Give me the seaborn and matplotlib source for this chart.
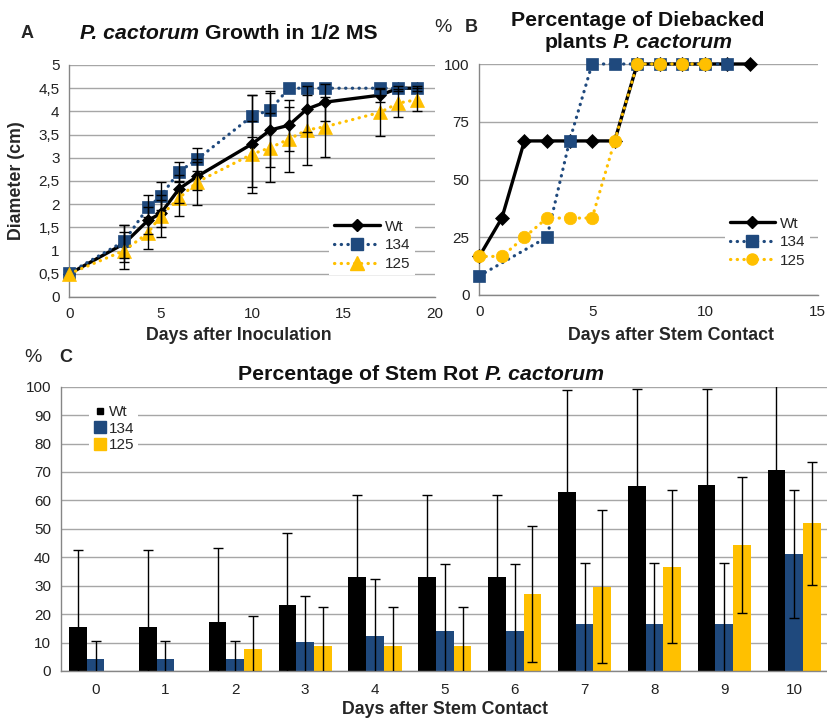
import numpy as np
import pandas as pd
import matplotlib
matplotlib.use("Agg")
import matplotlib.pyplot as plt
from matplotlib.lines import Line2D
import seaborn as sns

# ----------------------------------------------------------
# DATA
# ----------------------------------------------------------

# A - growth in 1/2 MS (diameter, cm)
growth_days = [0, 3, 4.3, 5, 6, 7, 10, 11, 12, 13, 14, 17, 18, 19]
growth_wt = [0.5, 1.15, 1.65, 1.8, 2.33, 2.6, 3.3, 3.6, 3.7, 4.05, 4.2, 4.35, 4.5, 4.5]
growth_134 = [0.52, 1.2, 1.93, 2.17, 2.7, 2.97, 3.9, 4.03, 4.5, 4.5, 4.5, 4.5, 4.5, 4.5]
growth_125 = [0.5, 1.0, 1.38, 1.75, 2.13, 2.48, 3.08, 3.22, 3.4, 3.6, 3.67, 3.98, 4.18, 4.25]
growth_err_wt = [0, 0.4, 0.3, 0.3, 0.3, 0.3, 1.05, 0.8, 0.55, 0.5, 0.4, 0.15, 0.05, 0.05]
growth_err_134 = [0, 0.35, 0.27, 0.3, 0.22, 0.25, 0.45, 0.4, 0, 0, 0, 0, 0, 0]
growth_err_125 = [0, 0.4, 0.35, 0.45, 0.38, 0.5, 0.72, 0.75, 0.7, 0.75, 0.65, 0.5, 0.3, 0.25]
growth_yticks = [0, 0.5, 1, 1.5, 2, 2.5, 3, 3.5, 4, 4.5, 5]
growth_ytick_labels = ["0", "0,5", "1", "1,5", "2", "2,5", "3", "3,5", "4", "4,5", "5"]

# B - diebacked plants (%)
dieback_days_wt = [0, 1, 2, 3, 4, 5, 6, 7, 8, 9, 10, 11, 12]
dieback_wt = [16.7, 33.3, 66.7, 66.7, 66.7, 66.7, 66.7, 100, 100, 100, 100, 100, 100]
dieback_days_134 = [0, 3, 4, 5, 6, 7, 8, 9, 10, 11]
dieback_134 = [8.3, 25, 66.7, 100, 100, 100, 100, 100, 100, 100]
dieback_days_125 = [0, 1, 2, 3, 4, 5, 6, 7, 8, 9, 10]
dieback_125 = [16.7, 16.7, 25, 33.3, 33.3, 33.3, 66.7, 100, 100, 100, 100]

# C - stem rot (%)
rot_days = [0, 1, 2, 3, 4, 5, 6, 7, 8, 9, 10]
rot_wt = [15.4, 15.4, 17.4, 23.2, 32.9, 32.9, 32.9, 63.1, 65.2, 65.5, 70.6]
rot_134 = [4.2, 4.2, 4.2, 10.1, 12.3, 14.0, 14.0, 16.5, 16.5, 16.5, 41.0]
rot_125 = [0, 0, 7.7, 8.9, 8.9, 8.9, 27.1, 29.7, 36.7, 44.3, 51.9]
rot_err_wt = [27.2, 27.2, 25.7, 25.5, 29.1, 29.1, 29.1, 35.7, 34.1, 33.8, 35.0]
rot_err_134 = [6.3, 6.3, 6.3, 16.4, 19.9, 23.5, 23.5, 21.6, 21.6, 21.6, 22.5]
rot_err_125 = [0, 0, 11.6, 13.7, 13.7, 13.7, 24.0, 27.0, 27.0, 24.0, 21.5]

groups = ["Wt", "134", "125"]
colors = {"Wt": "#000000", "134": "#1F497D", "125": "#FFC000"}

# ----------------------------------------------------------
# STYLE
# ----------------------------------------------------------

W, H, DPI = 827, 718, 100
sns.set_theme(style="white")
plt.rcParams["font.family"] = ["Liberation Sans", "DejaVu Sans"]

GRID = "#a6a6a6"
SPINE = "#868686"
TICK_FS = 11
LABEL_FS = 12.8
TITLE_FS = 15.3
DOT = (0, (0.1, 2.0))

fig = plt.figure(figsize=(W / DPI, H / DPI), dpi=DPI)
fig.patch.set_facecolor("white")


def px_axes(left, top, right, bottom):
    return fig.add_axes([left / W, 1 - bottom / H, (right - left) / W, (bottom - top) / H])


def style_axes(ax):
    ax.set_facecolor("white")
    for side in ["top", "right"]:
        ax.spines[side].set_visible(False)
    for side in ["left", "bottom"]:
        ax.spines[side].set_color(SPINE)
        ax.spines[side].set_linewidth(1)
    ax.yaxis.grid(True, color=GRID, linewidth=1)
    ax.xaxis.grid(False)
    ax.set_axisbelow(True)
    ax.tick_params(axis="both", which="both", direction="out", length=4, width=1,
                   color=SPINE, labelsize=TICK_FS, labelcolor="#222222", pad=3)
    ax.set_xlabel("")
    ax.set_ylabel("")


def rich_text(x_px, y_px, parts, size):
    renderer = fig.canvas.get_renderer()
    items = []
    for s, style in parts:
        t = fig.text(0, 1 - y_px / H, s, fontsize=size, fontweight="bold",
                     fontstyle=style, ha="left", va="baseline", color="#111111")
        items.append(t)
    widths = [t.get_window_extent(renderer).width for t in items]
    gap = size * 0.28 * DPI / 72
    cur = x_px - (sum(widths) + gap * (len(items) - 1)) / 2
    for t, w in zip(items, widths):
        t.set_x(cur / W)
        cur += w + gap


def draw_line(ax, x, y, name, marker, ms):
    ls = "-" if name == "Wt" else DOT
    lw = 2.4 if name == "Wt" else 2.3
    sns.lineplot(x=x, y=y, ax=ax, color=colors[name], linestyle=ls, linewidth=lw,
                 dash_capstyle="round", marker=marker, markersize=ms,
                 markeredgecolor=colors[name], markeredgewidth=0.5,
                 label=name, clip_on=False, zorder=3, legend=False)


def line_legend(ax, anchor, markers, sizes):
    handles = [Line2D([], [], color=colors["Wt"], lw=2.4, marker=markers[0], ms=sizes[0]),
               Line2D([], [], color=colors["134"], lw=2.3, linestyle=DOT, dash_capstyle="round",
                      marker=markers[1], ms=sizes[1]),
               Line2D([], [], color=colors["125"], lw=2.3, linestyle=DOT, dash_capstyle="round",
                      marker=markers[2], ms=sizes[2])]
    leg = ax.legend(handles, groups, loc="lower right", bbox_to_anchor=anchor,
                    frameon=True, facecolor="white", edgecolor="white", framealpha=1,
                    fontsize=TICK_FS, handlelength=3.0, handletextpad=0.3,
                    labelspacing=0.3, borderpad=0.3, numpoints=1, fancybox=False)
    leg.get_frame().set_linewidth(0)
    leg.set_zorder(5)


# ----------------------------------------------------------
# PANEL A
# ----------------------------------------------------------

ax_a = px_axes(69.3, 65, 435, 297)
style_axes(ax_a)
draw_line(ax_a, growth_days, growth_wt, "Wt", "D", 6)
draw_line(ax_a, growth_days, growth_134, "134", "s", 9)
draw_line(ax_a, growth_days, growth_125, "125", "^", 10)
for vals, errs in [(growth_wt, growth_err_wt), (growth_134, growth_err_134), (growth_125, growth_err_125)]:
    x = np.array(growth_days)
    v = np.array(vals)
    e = np.array(errs)
    m = e > 0
    ax_a.errorbar(x[m], v[m], yerr=e[m], fmt="none", ecolor="black", elinewidth=1,
                  capsize=3.5, capthick=1, zorder=4, clip_on=False)
ax_a.set_xlim(0, 20)
ax_a.set_ylim(0, 5)
ax_a.set_xticks([0, 5, 10, 15, 20])
ax_a.set_yticks(growth_yticks)
ax_a.set_yticklabels(growth_ytick_labels)
line_legend(ax_a, (0.965, 0.06), ["D", "s", "^"], [6, 9, 10])

# ----------------------------------------------------------
# PANEL B
# ----------------------------------------------------------

ax_b = px_axes(479.3, 64, 817.7, 295)
style_axes(ax_b)
draw_line(ax_b, dieback_days_wt, dieback_wt, "Wt", "D", 7)
draw_line(ax_b, dieback_days_134, dieback_134, "134", "s", 9)
draw_line(ax_b, dieback_days_125, dieback_125, "125", "o", 9)
ax_b.set_xlim(0, 15)
ax_b.set_ylim(0, 100)
ax_b.set_xticks([0, 5, 10, 15])
ax_b.set_yticks([0, 25, 50, 75, 100])
line_legend(ax_b, (1.0, 0.065), ["D", "s", "o"], [6, 8, 8])

# ----------------------------------------------------------
# PANEL C
# ----------------------------------------------------------

rot_df = pd.DataFrame({
    "day": rot_days * 3,
    "value": rot_wt + rot_134 + rot_125,
    "group": ["Wt"] * len(rot_days) + ["134"] * len(rot_days) + ["125"] * len(rot_days),
})

ax_c = px_axes(60.7, 386.7, 829, 671)
sns.barplot(data=rot_df, x="day", y="value", hue="group", hue_order=groups,
            palette=colors, width=0.76, saturation=1, errorbar=None, ax=ax_c,
            legend=False, linewidth=0)
style_axes(ax_c)
for cont, errs in zip(ax_c.containers, [rot_err_wt, rot_err_134, rot_err_125]):
    xs = np.array([p.get_x() + p.get_width() / 2 for p in cont.patches])
    hs = np.array([p.get_height() for p in cont.patches])
    e = np.array(errs)
    m = e > 0
    ax_c.errorbar(xs[m], hs[m], yerr=e[m], fmt="none", ecolor="black", elinewidth=1,
                  capsize=3.5, capthick=1, zorder=4)
ax_c.set_xlim(-0.5, len(rot_days) - 0.5)
ax_c.set_ylim(0, 100)
ax_c.set_yticks(range(0, 101, 10))
ax_c.set_xticks(range(len(rot_days)))
ax_c.set_xticklabels([str(d) for d in rot_days])
ax_c.set_xticks(np.arange(-0.5, len(rot_days), 1), minor=True)
ax_c.tick_params(axis="x", which="major", length=0, pad=9)
ax_c.tick_params(axis="x", which="minor", length=4, color=SPINE)

bar_handles = [Line2D([], [], linestyle="none", marker="s", ms=ms, color=colors[g])
               for g, ms in zip(groups, [5, 9, 9])]
leg_c = ax_c.legend(bar_handles, groups, loc="upper left", bbox_to_anchor=(0.027, 0.975),
                    frameon=True, facecolor="white", edgecolor="white", framealpha=1,
                    fontsize=TICK_FS, handlelength=0.9, handletextpad=0.15,
                    labelspacing=0.15, borderpad=0.25, fancybox=False)
leg_c.get_frame().set_linewidth(0)

# ----------------------------------------------------------
# TEXTS
# ----------------------------------------------------------

rich_text(229, 39, [("P. cactorum", "italic"), ("Growth in 1/2 MS", "normal")], TITLE_FS)
rich_text(638, 26.5, [("Percentage of Diebacked", "normal")], TITLE_FS)
rich_text(638, 47.5, [("plants", "normal"), ("P. cactorum", "italic")], TITLE_FS)
rich_text(421, 380, [("Percentage of Stem Rot", "normal"), ("P. cactorum", "italic")], TITLE_FS)

fig.text(27 / W, 1 - 34 / H, "A", fontsize=13, fontweight="bold", ha="center", va="center")
fig.text(443 / W, 1 - 27 / H, "%", fontsize=14, ha="center", va="center")
fig.text(471 / W, 1 - 27 / H, "B", fontsize=13, fontweight="bold", ha="center", va="center")
fig.text(33 / W, 1 - 357 / H, "%", fontsize=14, ha="center", va="center")
fig.text(66 / W, 1 - 358 / H, "C", fontsize=13, fontweight="bold", ha="center", va="center")

fig.text(17 / W, 1 - 181 / H, "Diameter (cm)", fontsize=LABEL_FS, fontweight="bold",
         rotation=90, ha="center", va="center")
fig.text(239 / W, 1 - 335 / H, "Days after Inoculation", fontsize=LABEL_FS,
         fontweight="bold", ha="center", va="center")
fig.text(671 / W, 1 - 335 / H, "Days after Stem Contact", fontsize=LABEL_FS,
         fontweight="bold", ha="center", va="center")
fig.text(445 / W, 1 - 710 / H, "Days after Stem Contact", fontsize=LABEL_FS,
         fontweight="bold", ha="center", va="center")

fig.savefig("out.png", dpi=DPI, facecolor="white")
